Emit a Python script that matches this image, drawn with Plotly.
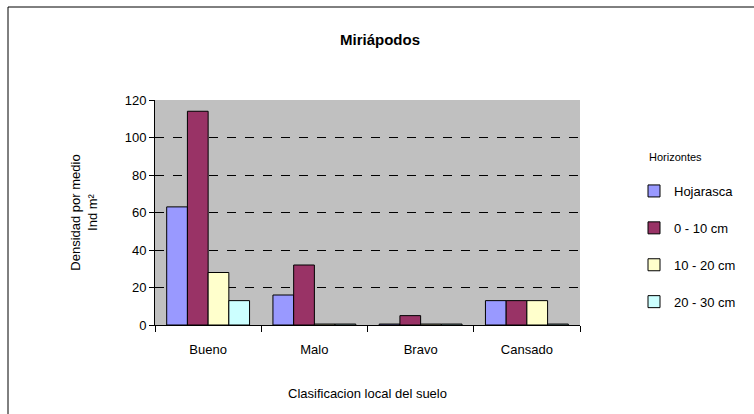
import plotly.graph_objects as go

categories = ["Bueno", "Malo", "Bravo", "Cansado"]
series_names = ["Hojarasca", "0 - 10 cm", "10 - 20 cm", "20 - 30 cm"]
hojarasca = [63, 16, 0.5, 13]
cm_0_10 = [114, 32, 5, 13]
cm_10_20 = [28, 0.5, 0.5, 13]
cm_20_30 = [13, 0.5, 0.5, 0.5]
colors = ["#9999FF", "#993366", "#FFFFCC", "#CCFFFF"]
y_ticks = [0, 20, 40, 60, 80, 100, 120]

W, H = 754, 414
L, R, T, B = 155, 174, 100, 89
pw, ph = W - L - R, H - T - B

fig = go.Figure()
for i, (name, vals) in enumerate(zip(series_names, [hojarasca, cm_0_10, cm_10_20, cm_20_30])):
    fig.add_trace(go.Bar(x=categories, y=vals, name=name, legendgroup=name,
                         marker=dict(color=colors[i], line=dict(color="#000000", width=1))))

def px_x(p):
    return (p - L) / pw

def px_y(p):
    return (H - B - p) / ph

fig.update_layout(
    width=W, height=H,
    margin=dict(l=L, r=R, t=T, b=B),
    paper_bgcolor="white",
    plot_bgcolor="#C0C0C0",
    font=dict(family="Liberation Sans, Arial, sans-serif", size=13, color="black"),
    title=dict(text="<b>Miriápodos</b>", x=0.504, xanchor="center", y=1 - 40 / H, yanchor="middle",
               font=dict(size=15)),
    barmode="group", bargap=0.22, bargroupgap=0,
    legend=dict(x=px_x(634), y=px_y(176), xanchor="left", yanchor="top",
                font=dict(size=13), tracegroupgap=17, itemwidth=30,
                bgcolor="rgba(0,0,0,0)"),
    xaxis=dict(showline=True, linecolor="black", linewidth=1, ticks="outside", tickson="boundaries",
               ticklen=6, tickcolor="black", ticklabelstandoff=12,
               title=dict(text="Clasificacion local del suelo", standoff=33, font=dict(size=13))),
    yaxis=dict(range=[0, 120], tickvals=y_ticks, showline=True, linecolor="black", linewidth=1,
               ticks="outside", ticklen=5, tickcolor="black",
               showgrid=True, gridcolor="#000000", griddash="dash", gridwidth=1,
               zeroline=False,
               title=dict(text="Densidad por medio<br>Ind m²", standoff=24, font=dict(size=13))),
    annotations=[dict(text="Horizontes", xref="paper", yref="paper", x=px_x(647), y=px_y(157),
                      xanchor="left", yanchor="middle", showarrow=False, font=dict(size=11))],
    shapes=[dict(type="rect", xref="paper", yref="paper",
                 x0=px_x(8), x1=px_x(760), y0=px_y(420), y1=px_y(7),
                 line=dict(color="black", width=1), fillcolor="rgba(0,0,0,0)", layer="below")],
)

fig.write_html("out.html")
